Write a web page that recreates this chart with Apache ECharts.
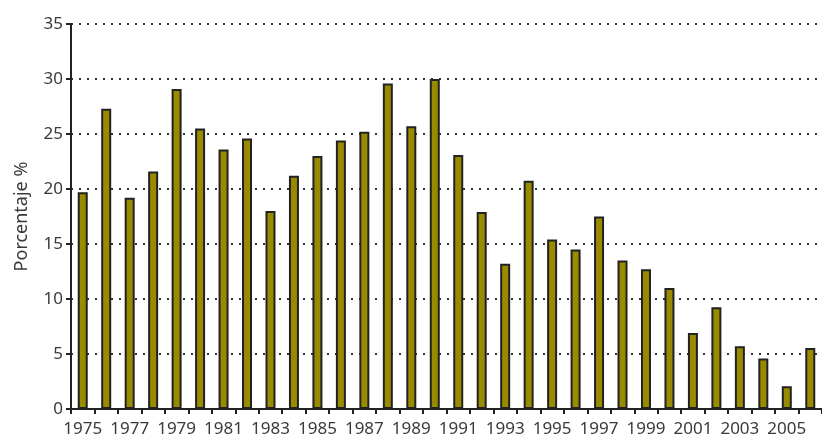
<!DOCTYPE html>
<html>
<head>
<meta charset="utf-8">
<script src="https://cdn.jsdelivr.net/npm/echarts@6/dist/echarts.min.js"></script>
<style>
  html, body { margin: 0; padding: 0; background: #fff; }
  #chart { width: 822px; height: 438px; }
</style>
</head>
<body>
<div id="chart"></div>
<script>
  // años y porcentaje
  var years = ['1975', '1976', '1977', '1978', '1979', '1980', '1981', '1982',
    '1983', '1984', '1985', '1986', '1987', '1988', '1989', '1990',
    '1991', '1992', '1993', '1994', '1995', '1996', '1997', '1998',
    '1999', '2000', '2001', '2002', '2003', '2004', '2005', '2006'];
  var porcentaje = [19.7, 27.3, 19.2, 21.6, 29.1, 25.5, 23.6, 24.6,
    18.0, 21.2, 23.0, 24.4, 25.2, 29.6, 25.7, 30.0,
    23.1, 17.9, 13.2, 20.75, 15.4, 14.5, 17.5, 13.5,
    12.7, 11.0, 6.9, 9.25, 5.7, 4.6, 2.06, 5.55];
  var yTicks = [0, 5, 10, 15, 20, 25, 30, 35];

  var myChart = echarts.init(document.getElementById('chart'));
  var font = 'Noto Sans';

  myChart.setOption({
    animation: false,
    grid: { left: 71, right: -1, top: 24, bottom: 29 },
    xAxis: {
      type: 'category',
      data: years,
      boundaryGap: true,
      axisLine: { lineStyle: { color: '#222', width: 2 } },
      axisTick: { show: true, interval: 0, length: 5, lineStyle: { color: '#222', width: 2 } },
      axisLabel: {
        interval: 1,
        margin: 12,
        color: '#3a3a3a',
        fontFamily: font,
        fontSize: 17
      }
    },
    yAxis: {
      type: 'value',
      min: yTicks[0],
      max: yTicks[yTicks.length - 1],
      interval: 5,
      name: 'Porcentaje %',
      nameLocation: 'middle',
      nameGap: 40,
      nameTextStyle: { color: '#3a3a3a', fontFamily: font, fontSize: 18 },
      axisLine: { show: true, lineStyle: { color: '#222', width: 2 } },
      axisTick: { show: true, length: 5, lineStyle: { color: '#222', width: 2 } },
      axisLabel: { color: '#3a3a3a', fontFamily: font, fontSize: 17, margin: 8 },
      splitLine: {
        show: true,
        lineStyle: { color: '#333', width: 2, type: [2, 6] }
      }
    },
    series: [{
      type: 'bar',
      data: porcentaje,
      barWidth: 10,
      itemStyle: {
        color: '#998b00',
        borderColor: '#222',
        borderWidth: 2
      }
    }]
  });
</script>
</body>
</html>
